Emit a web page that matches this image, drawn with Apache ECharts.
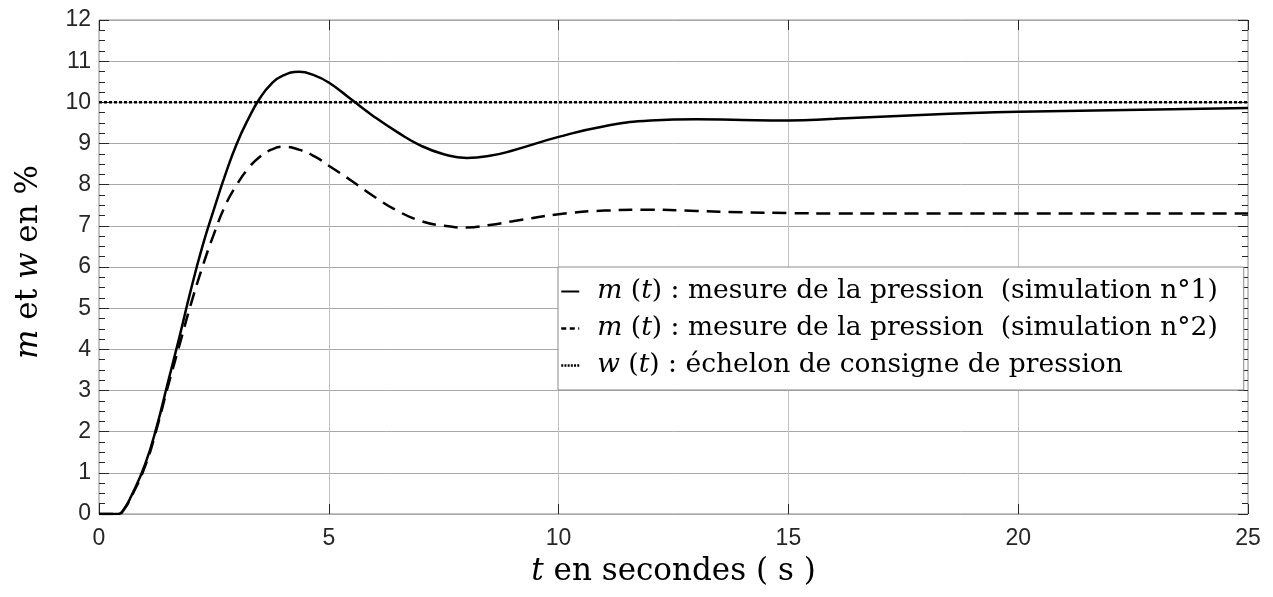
<!DOCTYPE html>
<html>
<head>
<meta charset="utf-8">
<script src="https://cdn.jsdelivr.net/npm/echarts@6/dist/echarts.min.js"></script>
<style>html,body{margin:0;padding:0;background:#fff}#c{width:1273px;height:597px}</style>
</head>
<body>
<div id="c"></div>
<script>
// time in seconds
const tPts = [0, 0.42, 0.55, 0.7, 1.0, 1.25, 1.5, 1.75, 2.0, 2.25, 2.5, 2.75, 3.0, 3.25, 3.5, 3.75, 4.0, 4.35, 4.7, 5.0, 5.5, 6.0, 6.5, 7.0, 7.5, 8.0, 8.5, 9.0, 10, 11, 12, 13, 14, 15, 16, 17, 18, 19, 20, 22, 25];
// m(t) simulation 1
const m1 = [0, 0, 0.13, 0.43, 1.2, 2.1, 3.2, 4.3, 5.45, 6.5, 7.4, 8.25, 9.0, 9.6, 10.1, 10.45, 10.65, 10.74, 10.65, 10.48, 10.06, 9.64, 9.27, 8.95, 8.74, 8.65, 8.7, 8.83, 9.16, 9.42, 9.56, 9.59, 9.57, 9.56, 9.6, 9.65, 9.7, 9.74, 9.77, 9.81, 9.86];
// m(t) simulation 2
const m2 = [0, 0, 0.12, 0.41, 1.15, 2.05, 3.1, 4.1, 5.1, 6.0, 6.8, 7.5, 8.0, 8.4, 8.68, 8.85, 8.92, 8.85, 8.68, 8.46, 8.09, 7.7, 7.36, 7.12, 7.0, 6.96, 7.02, 7.11, 7.28, 7.37, 7.39, 7.36, 7.33, 7.31, 7.3, 7.3, 7.3, 7.3, 7.3, 7.3, 7.3];
// w(t) step
const tW = [0, 25];
const w = [10, 10];

const seriesNames = [
  'm (t) : mesure de la pression  (simulation n°1)',
  'm (t) : mesure de la pression  (simulation n°2)',
  'w (t) : échelon de consigne de pression'
];
const legendLabels = [
  '{f|m} ({i|t}) : mesure de la pression  (simulation n°1)',
  '{f|m} ({i|t}) : mesure de la pression  (simulation n°2)',
  '{f|w} ({i|t}) : échelon de consigne de pression'
];
const xName = '{i|t} en secondes ( s )';
const yName = '{i|m} et {i|w} en %';

const zip = (a, b) => a.map((v, i) => [v, b[i]]);
const serif = 'DejaVu Serif';
const sans = 'Liberation Sans';
const LFS = 26.5;

const chart = echarts.init(document.getElementById('c'));
const baseX = {type: 'value', min: 0, max: 25, interval: 5};
const baseY = {type: 'value', min: 0, max: 12, interval: 1};
const noLine = {show: false, onZero: false};
chart.setOption({
  animation: false,
  backgroundColor: '#fff',
  grid: {left: 99, right: 25, top: 20, bottom: 83, show: true, borderColor: '#8a8a8a', borderWidth: 1, containLabel: false},
  xAxis: [
    Object.assign({}, baseX, {
      position: 'bottom',
      name: xName, nameLocation: 'middle', nameGap: 42,
      nameTextStyle: {fontFamily: serif, fontSize: 31, color: '#000', rich: {i: {fontFamily: serif, fontStyle: 'italic', fontSize: 31}}},
      axisLine: noLine,
      axisTick: {inside: true, length: 10, lineStyle: {color: '#262626'}},
      axisLabel: {margin: 13, fontFamily: sans, fontSize: 23, color: '#262626'},
      splitLine: {show: true, lineStyle: {color: '#c2c2c2', width: 1}}
    }),
    Object.assign({}, baseX, {
      position: 'top',
      axisLine: noLine,
      axisTick: {inside: true, length: 10, lineStyle: {color: '#262626'}},
      axisLabel: {show: false},
      splitLine: {show: false}
    })
  ],
  yAxis: [
    Object.assign({}, baseY, {
      position: 'left',
      name: yName, nameLocation: 'middle', nameGap: 55,
      nameTextStyle: {fontFamily: serif, fontSize: 31, color: '#000', padding: [0, 0, 0, 10], rich: {i: {fontFamily: serif, fontStyle: 'italic', fontSize: 31}}},
      axisLine: noLine,
      axisTick: {inside: true, length: 10, lineStyle: {color: '#262626'}},
      minorTick: {show: true, splitNumber: 4, length: 6, lineStyle: {color: '#262626'}},
      axisLabel: {margin: 8, fontFamily: sans, fontSize: 23, color: '#262626'},
      splitLine: {show: true, lineStyle: {color: '#a8a8a8', width: 1}}
    }),
    Object.assign({}, baseY, {
      position: 'right',
      axisLine: noLine,
      axisTick: {inside: true, length: 10, lineStyle: {color: '#262626'}},
      minorTick: {show: true, splitNumber: 4, length: 6, lineStyle: {color: '#262626'}},
      axisLabel: {show: false},
      splitLine: {show: false}
    })
  ],
  legend: {
    orient: 'vertical', left: 558, top: 267,
    padding: [11, 26, 11, 2],
    itemWidth: 18, itemHeight: 12, itemGap: 10,
    itemStyle: {opacity: 0},
    backgroundColor: '#fff', borderColor: '#8a8a8a', borderWidth: 1,
    data: [
      {name: seriesNames[0]},
      {name: seriesNames[1], lineStyle: {type: [5, 3.5], width: 2.5}},
      {name: seriesNames[2], lineStyle: {type: [2, 1.2], width: 2.5}}
    ],
    formatter: name => legendLabels[seriesNames.indexOf(name)],
    textStyle: {fontFamily: serif, fontSize: LFS, lineHeight: 27, color: '#000',
      rich: {
        i: {fontFamily: serif, fontStyle: 'italic', fontSize: LFS, lineHeight: 27},
        f: {fontFamily: serif, fontStyle: 'italic', fontSize: LFS, lineHeight: 27, padding: [0, 0, 0, 13]}
      }}
  },
  series: [
    {name: seriesNames[0], type: 'line', data: zip(tPts, m1), showSymbol: false, symbol: 'none', smooth: 0.5,
      lineStyle: {color: '#000', width: 2.5, type: 'solid'}, itemStyle: {color: '#000'}, z: 4},
    {name: seriesNames[1], type: 'line', data: zip(tPts, m2), showSymbol: false, symbol: 'none', smooth: 0.5,
      lineStyle: {color: '#000', width: 2.5, type: [14, 8]}, itemStyle: {color: '#000'}, z: 4},
    {name: seriesNames[2], type: 'line', data: zip(tW, w), showSymbol: false, symbol: 'none',
      lineStyle: {color: '#000', width: 2.5, type: [3, 2]}, itemStyle: {color: '#000'}, z: 3}
  ]
});
</script>
</body>
</html>
